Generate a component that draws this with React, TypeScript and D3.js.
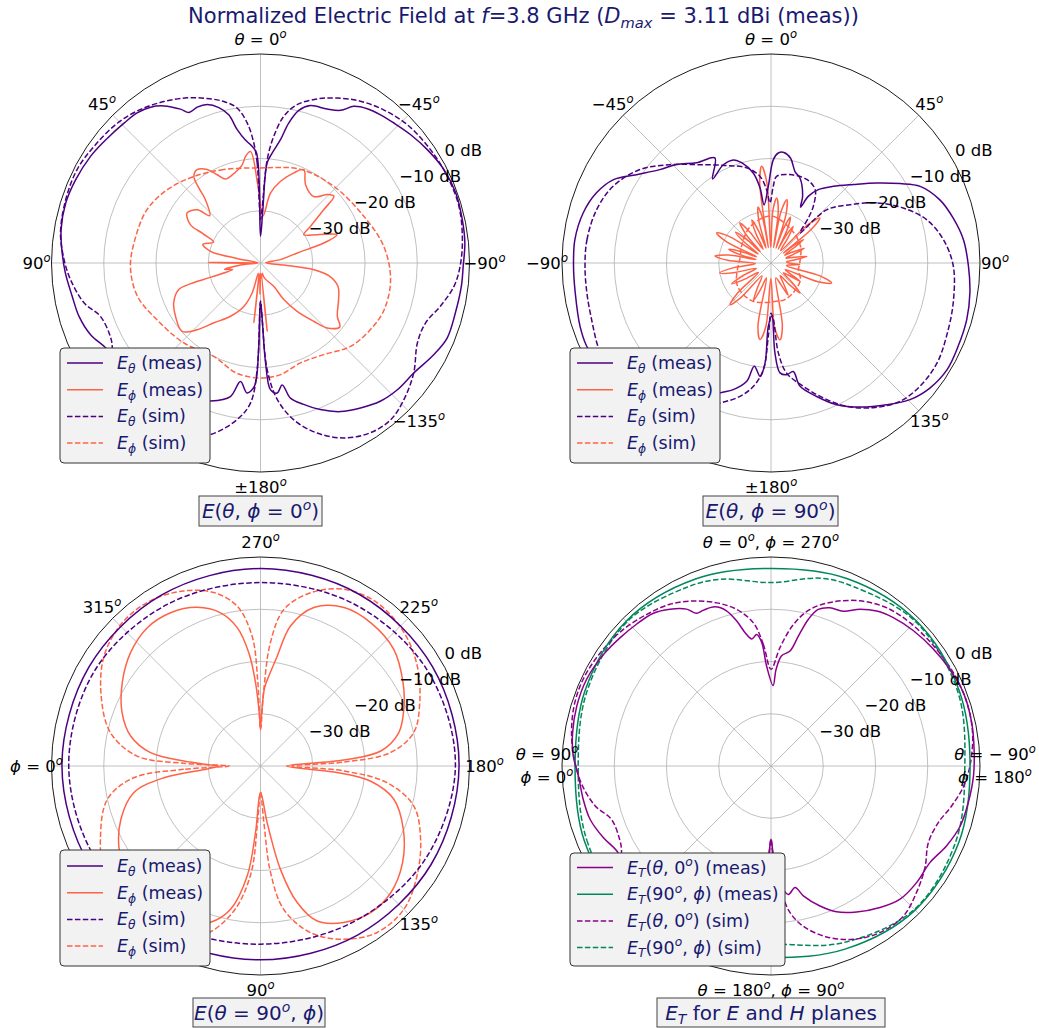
import React from 'react';
import * as d3 from 'd3';

type Pt = [number, number];
type Seg = { t: string; i?: boolean; s?: 'sup' | 'sub' };

// ---------------- DATA (angle in degrees, value in dB) ----------------
const dbTicks = [-30, -20, -10, 0];
const dbTickLabels = ['\u221230 dB', '\u221220 dB', '\u221210 dB', '0 dB'];
const dbDomain = [-40, 0];

// Panel 1: E(theta, phi=0)
const p1EthMeas: Pt[] = [[0,-34.9],[2.1,-18.9],[4.8,-17.3],[7,-16.3],[9.9,-14.1],[12.1,-11],[15,-9.2],[18.6,-8],[22.1,-7.8],[25.4,-8.1],[27.5,-6.8],[31.6,-4.7],[35.2,-3.5],[39.4,-2.8],[44.3,-2.6],[50.8,-2.2],[57.9,-1.6],[65.8,-1.2],[72.9,-1.0],[80.5,-1.3],[87.1,-2.0],[92.9,-2.6],[100,-3.4],[106.4,-3.8],[112.9,-4.7],[118.7,-6.2],[128,-7.0],[140,-8.5],[150,-10],[160.1,-11.9],[167.3,-13.8],[170.4,-17],[174.1,-15],[177.2,-16.4],[178.7,-22.8],[180,-32.7],[-177.1,-20.9],[-175.5,-15.7],[-172.7,-14.9],[-169.9,-16.3],[-167.5,-13.5],[-163,-11.7],[-157.8,-9.7],[-151.7,-7.7],[-145.4,-6.3],[-139.1,-5.0],[-132.8,-4.3],[-125.7,-3.9],[-117.9,-2.5],[-111.9,-1.5],[-104.4,-1.5],[-96.6,-1.3],[-90.9,-1.2],[-84.4,-0.7],[-77.9,-0.5],[-70.3,-0.3],[-63,-0.6],[-55.8,-1.4],[-49.5,-2.2],[-43.6,-3.0],[-39,-3.5],[-34.7,-4.1],[-30.8,-5.1],[-27.7,-7.0],[-23.4,-7.9],[-17.6,-8.4],[-14.1,-9.9],[-11.4,-12.7],[-9.2,-16.1],[-6.1,-18.8],[-3.8,-20.8],[-2.5,-29.8]];
const p1EthSim: Pt[] = [[0,-31.7],[1.9,-20.9],[3.2,-17],[5.4,-13.1],[8.6,-10],[12.8,-8.3],[18,-6.9],[24,-5.4],[30.9,-4.0],[38,-2.7],[45.7,-1.7],[55,-1.1],[63,-0.6],[72,-0.8],[81.5,-1.3],[89,-2.4],[95,-3.5],[102.8,-5.4],[108.4,-7.7],[116.1,-8.0],[119.8,-7.3],[126,-4.0],[133,-2.1],[140,-1.0],[147,-1.3],[155,-3],[163.8,-5.8],[171.5,-9.7],[175.9,-13.1],[178.2,-19.6],[180,-32.7],[-178.3,-29.2],[-176.4,-19.5],[-173,-13.7],[-168,-9.3],[-161.6,-5.7],[-154.5,-2.9],[-147.1,-1.3],[-140.3,-1.0],[-133.6,-2.1],[-125.7,-3.9],[-117,-6.3],[-110,-6.4],[-103.5,-4.6],[-96.9,-2.7],[-91,-1.8],[-83.4,-1.1],[-74.1,-0.5],[-65.1,-0.6],[-56.3,-0.9],[-46.7,-1.4],[-38.8,-2.4],[-31.7,-3.6],[-24.9,-5.2],[-19,-6.8],[-13,-8.9],[-9,-11.6],[-6,-15.6],[-3.7,-20.2],[-1.5,-30]];
const p1EphMeas: Pt[] = [[-3,-31],[2,-25],[5.1,-18.6],[8,-19.4],[10.6,-20.9],[17.8,-22.3],[22.6,-22.6],[26.1,-21.2],[29.7,-19.4],[34.2,-18.4],[37.6,-19.1],[39.4,-21.4],[41,-23.9],[47,-26.7],[49.9,-24.2],[55.7,-23],[61.3,-24.7],[63,-27.7],[66,-30.2],[72,-28.4],[76.9,-30.2],[79,-35.4],[87.5,-39.5],[89.5,-30.1],[91.5,-39.5],[96,-36],[100,-33],[103,-34.5],[106,-30],[106.5,-26.1],[108.1,-23.5],[114.8,-21.7],[122.1,-20.8],[131.1,-20.1],[136.5,-22.4],[142.1,-25.5],[150.6,-28.3],[159,-31.1],[164.5,-34.1],[168,-38],[173.7,-28.5],[176,-38],[179,-34],[-178,-38],[-174.4,-26.9],[-171,-38],[-165,-37],[-150.3,-34.8],[-147.5,-31.7],[-142.8,-28.4],[-137.6,-24.9],[-134.3,-22.2],[-128.9,-20.5],[-124.8,-22.1],[-115.1,-23.5],[-106.8,-24.5],[-100.5,-26.7],[-97.1,-29.7],[-95,-35.5],[-88,-39],[-80,-36],[-74.7,-32.7],[-72.5,-27.3],[-69.7,-24.4],[-63.4,-27.9],[-56.8,-30.1],[-53.7,-28.1],[-49.9,-24.2],[-47.7,-21],[-44.3,-21.7],[-38.7,-23.7],[-29.9,-22.7],[-24.9,-20.3],[-20.3,-21.6],[-13.8,-23.9],[-8.1,-26.5]];
const p1EphSim: Pt[] = [[0,-21.8],[21.4,-20.8],[37.6,-19.1],[51.8,-17.3],[64.8,-16],[78,-15.6],[91.5,-15.1],[105.1,-15.6],[118.7,-17.4],[136.2,-18.8],[153.4,-20],[168.1,-18.4],[180,-18],[-169.8,-18.3],[-158.2,-19.4],[-145.4,-18.7],[-132.8,-16.5],[-121.2,-15.4],[-110.7,-14.7],[-97.3,-14.9],[-82.3,-16.2],[-65.7,-18.3],[-43.7,-19.7],[-23.2,-20.5]];

// Panel 2: E(theta, phi=90)
const p2EthMeas: Pt[] = [[-91,-2.2],[-83.2,-2.2],[-75.1,-2.8],[-68.1,-4.0],[-62.1,-5.9],[-56.7,-9.2],[-50,-12.2],[-43.8,-13.9],[-36.6,-16.1],[-28.1,-17.2],[-34.8,-20.4],[-25.9,-19.1],[-20,-19],[-16.3,-20],[-11.1,-22.5],[-8.3,-25.5],[-6.8,-28.8],[-2,-25.3],[1.3,-20.2],[3.8,-18.9],[6.7,-18.7],[10.6,-19.6],[14.7,-21.9],[18.8,-22.8],[25.4,-25.9],[27.9,-27.9],[29.2,-25.4],[32.8,-23.3],[39.1,-21.1],[46.4,-18.2],[52.9,-14.6],[58.4,-11],[62.8,-7.9],[69.5,-5.5],[76.1,-4.1],[83.1,-2.9],[91,-2.2],[98.6,-1.5],[106.2,-1.0],[114,-0.8],[121.3,-0.6],[128.2,-1.3],[134.5,-2.7],[140.8,-5],[148.3,-7.6],[155.1,-10.1],[161.1,-13],[166.8,-15.8],[168.4,-18.8],[172,-18.4],[175.3,-18.9],[177.5,-22.8],[179,-29.8],[-177.6,-27.9],[-176.6,-20.8],[-174.5,-18.2],[-170.8,-20],[-168.4,-16.9],[-163.4,-14.7],[-158.6,-13.3],[-150,-9],[-140,-5.5],[-130,-3],[-120,-1.8],[-114.3,-1.3],[-108.3,-1.5],[-98.7,-2.1]];
const p2EthSim: Pt[] = [[-91,-4.4],[-82.8,-4.5],[-73,-5.1],[-64.1,-6.4],[-54.5,-9.2],[-45.8,-13],[-35.8,-16.8],[-24.5,-19.5],[-14.4,-21.2],[-7.2,-23.3],[-3.4,-26],[-1,-28.5],[1.7,-25.3],[3.7,-23.4],[12.1,-22.7],[23.2,-22.6],[31,-23.6],[36.8,-26.5],[39.7,-28.8],[44,-32],[46.2,-25.3],[53.6,-21.2],[60.4,-16.7],[67.4,-12.6],[74.4,-9.1],[82.3,-6.7],[91,-5.1],[102.4,-4.3],[112.7,-3.6],[121.1,-2.9],[129.6,-3.0],[137,-3.8],[144.8,-6.1],[152.2,-9],[158.8,-12.3],[165.3,-15.6],[171.9,-18.7],[175.3,-22.7],[177.6,-29.2],[180,-30.4],[-177.9,-26],[-175.9,-19.5],[-171.8,-16.1],[-166.9,-13.8],[-160,-11.5],[-150,-8],[-140,-5],[-130,-3.5],[-120,-3.2],[-116.2,-3.2],[-107.5,-4.0],[-99.2,-4.3]];
const p2EphMeas: Pt[] = [[-175.3,-27.7],[-171.8,-25.2],[-168.3,-27.7],[-163,-37],[-158.5,-34.5],[-155,-32],[-151.5,-34.5],[-145,-37],[-139,-31.3],[-135.5,-28.8],[-132,-31.3],[-127,-37],[-121.5,-34],[-118,-31.5],[-114.5,-34],[-110,-37],[-104.5,-32.5],[-101,-30],[-97.5,-32.5],[-92,-37],[-86.5,-31.7],[-83,-29.2],[-79.5,-31.7],[-77,-37],[-75,-34],[-72,-31.5],[-69,-34],[-66.5,-37],[-64.5,-30.6],[-61,-28.1],[-57.5,-30.6],[-55,-37],[-52,-33.5],[-49,-31],[-46,-33.5],[-43.5,-37],[-41.3,-32.8],[-37.8,-30.3],[-34.3,-32.8],[-30,-37],[-27,-33.5],[-24,-31],[-21,-33.5],[-18.5,-37],[-16,-31.5],[-13,-29],[-10.5,-31.5],[-9.5,-37],[-8,-24.5],[-5.5,-21.4],[-3,-24.5],[-1,-37],[2,-30],[5,-27.5],[8,-30],[9.5,-37],[11,-30],[14,-27.5],[17,-30],[18.5,-37],[20,-33],[23,-30.5],[26,-33],[27.5,-37],[28.5,-34.3],[31.3,-31.8],[34,-34.3],[38,-37],[44,-29.8],[47.4,-27.3],[50,-29.8],[51,-37],[52,-34.8],[54.2,-32.3],[56.5,-34.8],[60,-37],[63,-35.5],[66,-33],[69,-35.5],[72,-37],[76,-35.5],[79.4,-33],[82.8,-35.5],[86,-37],[90,-36.5],[93,-34.5],[96,-36.5],[100,-37],[104.7,-30.3],[108.2,-27.8],[111.7,-30.3],[115,-37],[119,-36],[122,-33.5],[125,-36],[129,-37],[132.5,-34.5],[136,-32],[139.5,-34.5],[144,-37],[148.5,-35.5],[152,-33],[155.5,-35.5],[162,-37],[169.8,-27.7],[173.3,-25.2],[176.8,-27.7],[-179.5,-37]];
const p2EphSim: Pt[] = [[0,-31],[30,-32.5],[60,-33.5],[90,-34.5],[104,-34.6],[120,-33.5],[143,-32.9],[160,-32.5],[171.6,-32.6],[-170,-32.3],[-155,-31.9],[-135,-32],[-120,-32.4],[-100,-33.5],[-80,-34],[-60,-33.5],[-30,-32]];

// Panel 3: E(theta=90, phi)
const p3EthMeas: Pt[] = [[0,-2.0],[30,-2.2],[60,-2.6],[90,-2.9],[120,-2.7],[150,-2.3],[180,-2.0],[210,-2.0],[240,-2.1],[270,-2.2],[300,-2.2],[330,-2.1]];
const p3EthSim: Pt[] = [[0,-3.3],[30,-3.8],[60,-5.0],[90,-5.9],[120,-5.3],[150,-3.8],[180,-2.7],[210,-3.2],[240,-4.2],[270,-4.9],[300,-4.3],[330,-3.4]];
const p3EphMeas: Pt[] = [[0,-32],[3,-30],[6.9,-21.4],[11.9,-15.2],[20.9,-11.4],[30.5,-8.6],[40,-6.8],[50,-5.6],[60,-5.8],[67,-7.2],[72.3,-8.6],[78.2,-12],[83.1,-18.8],[85.7,-27.2],[90,-35],[96.7,-29.1],[100.9,-19.9],[105,-13],[110.1,-8.4],[118,-6.1],[126.9,-4.9],[135.7,-5.2],[145.7,-7.1],[156.1,-10.1],[166,-13.7],[172.2,-18.8],[175.3,-25.9],[180,-35],[184.1,-24],[187.1,-16.8],[193.5,-12.8],[201.6,-10.5],[210.3,-8.4],[221.2,-6.1],[232.5,-5.4],[242.2,-5.7],[251.4,-8.0],[257.9,-12.6],[261.5,-19],[264.5,-22.5],[267,-25],[269,-30.4],[270,-33],[271.1,-30.4],[273.4,-24],[275.9,-18.2],[279.6,-13.1],[284.6,-9.7],[291.8,-7.3],[300.4,-6.0],[309.3,-5.8],[318.9,-7.0],[328.9,-9.1],[338.9,-11.6],[347,-14.5],[353.1,-18.8],[356.3,-25.3],[358.5,-30]];
const p3EphSim: Pt[] = [[0,-34],[2.5,-25.3],[5.3,-15.6],[12.3,-10],[24.6,-6.3],[35,-3.5],[45,-1.6],[55,-1.5],[65,-3.0],[73,-6.7],[80,-12.2],[85,-19.5],[87,-29],[90,-35],[93.4,-29.2],[95.4,-19.5],[99.2,-12.2],[106.7,-6.7],[115.7,-3.2],[125,-1.1],[135,-1.2],[144.9,-3.4],[155.4,-6.3],[165.4,-9.7],[172.5,-15.6],[176.6,-24],[180,-34],[182.7,-24],[185.9,-15],[192.3,-10],[201.7,-7.2],[212.6,-4.4],[222.9,-2.5],[234.5,-1.6],[244.7,-2.6],[253.9,-5.5],[261.5,-9.7],[265.4,-16.3],[267.5,-25.3],[270,-33],[271.8,-24],[273.7,-15.1],[278.3,-9.1],[285.1,-5.6],[293.7,-3.4],[303.7,-2.0],[314,-1.9],[324.9,-3.4],[336.3,-6.7],[347.5,-10.6],[355.4,-16.3],[358,-25.3]];

// Panel 4: E_T for E and H planes
const p4EtEMeas: Pt[] = [[-1.5,-24.6],[2.5,-20.9],[4.3,-16.3],[6.2,-14.7],[8.6,-15.4],[11,-14],[13.3,-11.5],[16,-9.1],[19.4,-7.7],[23.4,-7.5],[26,-7.5],[28.3,-5.9],[32.8,-4.3],[37.6,-3.1],[43.5,-2.6],[49.6,-2.1],[56.3,-1.5],[64.8,-1.0],[72.8,-1.1],[80.5,-1.5],[87.1,-2.1],[93,-3.1],[100.1,-3.5],[106.4,-3.9],[113.1,-5.1],[118.8,-6.3],[130,-5.8],[145,-7.5],[160,-12],[170,-15],[176,-18],[178.7,-23.5],[180,-26],[-178.7,-23.5],[-176,-18],[-172.3,-15.2],[-168.8,-16.3],[-166,-14.4],[-160.7,-11.6],[-155.8,-9.4],[-149.6,-7.6],[-142.4,-5.8],[-135.9,-4.5],[-128.7,-4.3],[-121.3,-4.4],[-114.5,-3.1],[-107.6,-2.0],[-100.5,-1.6],[-92.8,-1.2],[-85.3,-1.0],[-77.8,-0.7],[-69.1,-0.6],[-61.6,-1.1],[-54.3,-1.7],[-46.5,-2.4],[-39.5,-3.2],[-34.3,-4.1],[-29.6,-5.5],[-25,-7.3],[-20.4,-7.7],[-16.8,-8.7],[-14.3,-11],[-11.9,-14.6],[-9.4,-17.7],[-5.5,-18.8],[-3,-21.5]];
const p4EtESim: Pt[] = [[0,-21.5],[3.6,-16.7],[7,-12.4],[12.4,-9.3],[18.4,-7.1],[25.2,-5.1],[32,-3.5],[39.3,-2.5],[47.2,-1.5],[56.5,-0.8],[65.2,-0.4],[73.1,-0.6],[81.4,-1.4],[89,-2.5],[95.5,-3.6],[102.8,-5.5],[108.5,-7.8],[115.9,-7.8],[119.6,-7.1],[125,-4.5],[132,-3.0],[140,-1.7],[147,-1.9],[155,-3.3],[162,-5.6],[168,-8.7],[173,-11.7],[176,-16],[178.5,-22],[180,-26],[-178.5,-22],[-175.2,-15.7],[-172.6,-11.7],[-168.6,-8.7],[-162,-5.6],[-154.6,-3.3],[-146.8,-1.9],[-138.6,-1.7],[-131,-3.1],[-123.4,-4.7],[-116,-6.5],[-108.7,-6.2],[-102.5,-4.6],[-95.9,-2.9],[-89,-1.8],[-80.6,-0.9],[-72.1,-0.6],[-62.9,-0.8],[-53.5,-1.3],[-44.1,-1.8],[-36.1,-2.5],[-28.3,-4.1],[-20.8,-6.4],[-14,-9.1],[-9,-12.6],[-4.3,-17.3]];
const p4EtHMeas: Pt[] = [[0,-2.5],[22,-1.5],[45,-0.9],[68,-2.0],[90,-3.3],[112,-2.2],[135,-1.0],[158,-1.2],[180,-1.9],[202,-1.2],[225,-0.7],[248,-1.3],[270,-2.2],[292,-1.4],[315,-0.8],[338,-1.6]];
const p4EtHSim: Pt[] = [[0,-3.1],[22,-2.0],[45,-1.0],[68,-3.0],[90,-5.9],[112,-3.5],[135,-1.2],[158,-1.8],[180,-2.9],[202,-1.5],[225,-0.9],[245,-2.2],[255,-2.8],[270,-4.9],[285,-3.0],[295,-2.2],[315,-1.0],[338,-2.0]];

// ---------------- STYLE / LAYOUT ----------------
const FONT = "'DejaVu Sans', sans-serif";
const NAVY = '#191970';
const C_TH = '#4b0082';
const C_PH = '#ff6347';
const C_MAG = '#8b008b';
const C_GRN = '#00875a';
const R_OUT = 209;
const DASH = '5.5,2.4';
const PHI = '\u03d5';
const THETA = '\u03b8';

const rScale = d3.scaleLinear().domain(dbDomain).range([0, R_OUT]).clamp(true);
const rad = (d: number) => (d * Math.PI) / 180;

type Orient = (a: number) => number;
const oCCW: Orient = (a) => -a;
const oCW: Orient = (a) => a;
const oPHI: Orient = (a) => 270 - a;

function pathOf(data: Pt[], o: Orient): string {
  const gen = d3
    .lineRadial<Pt>()
    .angle((d) => rad(o(d[0])))
    .radius((d) => rScale(d[1]))
    .curve(d3.curveCatmullRomClosed.alpha(0.5));
  return gen(data) ?? '';
}

function Txt(props: { x: number; y: number; segs: Seg[]; fs: number; anchor?: string; fill?: string }) {
  const { x, y, segs, fs, anchor = 'middle', fill = '#000' } = props;
  let cur = 0;
  const spans = segs.map((sg, k) => {
    const target = sg.s === 'sup' ? -0.42 * fs : sg.s === 'sub' ? 0.22 * fs : 0;
    const dy = target - cur;
    cur = target;
    return (
      <tspan key={k} dy={dy} fontStyle={sg.i ? 'italic' : 'normal'} fontSize={sg.s ? fs * 0.7 : fs}>
        {sg.t}
      </tspan>
    );
  });
  return (
    <text x={x} y={y} fontSize={fs} textAnchor={anchor as any} fill={fill} fontFamily={FONT} style={{ whiteSpace: 'pre' }}>
      {spans}
    </text>
  );
}

const deg = (n: string): Seg[] => [{ t: n }, { t: 'o', i: true, s: 'sup' }];
const thEq = (n: string): Seg[] => [{ t: THETA, i: true }, { t: ' = ' + n }, { t: 'o', i: true, s: 'sup' }];
const phEq = (n: string): Seg[] => [{ t: PHI, i: true }, { t: ' = ' + n }, { t: 'o', i: true, s: 'sup' }];

interface Curve { data: Pt[]; o: Orient; color: string; dashed?: boolean }
interface AngLabel { a: number; lines: Seg[][] }
interface LegRow { segs: Seg[]; color: string; dashed?: boolean }

function Panel(props: {
  cx: number; cy: number; curves: Curve[]; labels: AngLabel[];
  legend: { x: number; y: number; w: number; h: number; rows: LegRow[]; y0: number; lx: number; tx: number };
  caption: { x: number; y: number; w: number; h: number; segs: Seg[] };
}) {
  const { cx, cy, curves, labels, legend, caption } = props;
  const spokes = d3.range(0, 360, 45);
  const fsT = 16.5;
  return (
    <g>
      <g transform={`translate(${cx},${cy})`}>
        {dbTicks.slice(0, 3).map((t) => (
          <circle key={t} r={rScale(t)} fill="none" stroke="#b0b0b0" strokeWidth={0.8} />
        ))}
        {spokes.map((a) => (
          <line key={a} x1={0} y1={0} x2={R_OUT * Math.sin(rad(a))} y2={-R_OUT * Math.cos(rad(a))} stroke="#b0b0b0" strokeWidth={0.8} />
        ))}
        <circle r={R_OUT} fill="none" stroke="#000" strokeWidth={0.9} />
        {curves.map((c, k) => (
          <path key={k} d={pathOf(c.data, c.o)} fill="none" stroke={c.color} strokeWidth={1.5} strokeDasharray={c.dashed ? DASH : undefined} strokeLinejoin="round" />
        ))}
      </g>
      {dbTicks.map((t, k) => {
        const rr = rScale(t);
        return (
          <Txt key={t} x={cx + rr * Math.cos(rad(30)) + 3} y={cy - rr * 0.5 - 3} segs={[{ t: dbTickLabels[k] }]} fs={fsT} anchor="start" />
        );
      })}
      {labels.map((l, k) => {
        const lx = cx + (R_OUT + 15) * Math.sin(rad(l.a));
        const ly = cy - (R_OUT + 15) * Math.cos(rad(l.a));
        const n = l.lines.length;
        return (
          <g key={k}>
            {l.lines.map((segs, j) => (
              <Txt key={j} x={lx} y={ly + 5.5 + (j - (n - 1) / 2) * 23} segs={segs} fs={fsT} />
            ))}
          </g>
        );
      })}
      <rect x={legend.x} y={legend.y} width={legend.w} height={legend.h} rx={4} fill="#f2f2f2" stroke="#333" strokeWidth={1} />
      {legend.rows.map((row, k) => {
        const yy = legend.y0 + k * 26.7;
        return (
          <g key={k}>
            <line x1={legend.lx} x2={legend.lx + 36} y1={yy} y2={yy} stroke={row.color} strokeWidth={1.5} strokeDasharray={row.dashed ? DASH : undefined} />
            <Txt x={legend.tx} y={yy + 6} segs={row.segs} fs={17.5} anchor="start" fill={NAVY} />
          </g>
        );
      })}
      <rect x={caption.x} y={caption.y} width={caption.w} height={caption.h} fill="#f2f2f2" stroke="#444" strokeWidth={1} />
      <Txt x={caption.x + caption.w / 2} y={caption.y + 22} segs={caption.segs} fs={20} fill={NAVY} />
    </g>
  );
}

const Eth: Seg[] = [{ t: 'E', i: true }, { t: THETA, i: true, s: 'sub' }];
const Eph: Seg[] = [{ t: 'E', i: true }, { t: PHI, i: true, s: 'sub' }];
const ET: Seg[] = [{ t: 'E', i: true }, { t: 'T', i: true, s: 'sub' }];
const legRows123: LegRow[] = [
  { segs: [...Eth, { t: ' (meas)' }], color: C_TH },
  { segs: [...Eph, { t: ' (meas)' }], color: C_PH },
  { segs: [...Eth, { t: ' (sim)' }], color: C_TH, dashed: true },
  { segs: [...Eph, { t: ' (sim)' }], color: C_PH, dashed: true },
];
const etE: Seg[] = [...ET, { t: '(' }, { t: THETA, i: true }, { t: ', 0' }, { t: 'o', i: true, s: 'sup' }, { t: ')' }];
const etH: Seg[] = [...ET, { t: '(90' }, { t: 'o', i: true, s: 'sup' }, { t: ', ' }, { t: PHI, i: true }, { t: ')' }];
const legRows4: LegRow[] = [
  { segs: [...etE, { t: ' (meas)' }], color: C_MAG },
  { segs: [...etH, { t: ' (meas)' }], color: C_GRN },
  { segs: [...etE, { t: ' (sim)' }], color: C_MAG, dashed: true },
  { segs: [...etH, { t: ' (sim)' }], color: C_GRN, dashed: true },
];

export default function App() {
  const neg = (n: string) => '\u2212' + n;
  return (
    <div style={{ position: 'absolute', left: 0, top: 0, background: '#fff' }}>
      <svg width={1039} height={1028} viewBox="0 0 1039 1028" style={{ display: 'block', background: '#fff' }}>
        <Txt
          x={523.5}
          y={23}
          fs={21}
          fill={NAVY}
          segs={[
            { t: 'Normalized Electric Field at ' },
            { t: 'f', i: true },
            { t: '=3.8 GHz (' },
            { t: 'D', i: true },
            { t: 'max', i: true, s: 'sub' },
            { t: ' = 3.11 dBi (meas))' },
          ]}
        />
        <Panel
          cx={260.5}
          cy={263}
          curves={[
            { data: p1EphSim, o: oCCW, color: C_PH, dashed: true },
            { data: p1EphMeas, o: oCCW, color: C_PH },
            { data: p1EthSim, o: oCCW, color: C_TH, dashed: true },
            { data: p1EthMeas, o: oCCW, color: C_TH },
          ]}
          labels={[
            { a: 0, lines: [thEq('0')] },
            { a: 315, lines: [deg('45')] },
            { a: 270, lines: [deg('90')] },
            { a: 45, lines: [deg(neg('45'))] },
            { a: 90, lines: [deg(neg('90'))] },
            { a: 135, lines: [deg(neg('135'))] },
            { a: 180, lines: [deg('\u00b1180')] },
          ]}
          legend={{ x: 60, y: 348, w: 150, h: 115, rows: legRows123, y0: 363, lx: 67, tx: 117 }}
          caption={{ x: 199, y: 496, w: 123, h: 30, segs: [{ t: 'E', i: true }, { t: '(' }, { t: THETA, i: true }, { t: ', ' }, { t: PHI, i: true }, { t: ' = 0' }, { t: 'o', i: true, s: 'sup' }, { t: ')' }] }}
        />
        <Panel
          cx={771}
          cy={263}
          curves={[
            { data: p2EphSim, o: oCW, color: C_PH, dashed: true },
            { data: p2EphMeas, o: oCW, color: C_PH },
            { data: p2EthSim, o: oCW, color: C_TH, dashed: true },
            { data: p2EthMeas, o: oCW, color: C_TH },
          ]}
          labels={[
            { a: 0, lines: [thEq('0')] },
            { a: 315, lines: [deg(neg('45'))] },
            { a: 270, lines: [deg(neg('90'))] },
            { a: 45, lines: [deg('45')] },
            { a: 90, lines: [deg('90')] },
            { a: 135, lines: [deg('135')] },
            { a: 180, lines: [deg('\u00b1180')] },
          ]}
          legend={{ x: 570, y: 348, w: 150, h: 115, rows: legRows123, y0: 363, lx: 577, tx: 627 }}
          caption={{ x: 703, y: 496, w: 135, h: 30, segs: [{ t: 'E', i: true }, { t: '(' }, { t: THETA, i: true }, { t: ', ' }, { t: PHI, i: true }, { t: ' = 90' }, { t: 'o', i: true, s: 'sup' }, { t: ')' }] }}
        />
        <Panel
          cx={260.5}
          cy={766}
          curves={[
            { data: p3EphSim, o: oPHI, color: C_PH, dashed: true },
            { data: p3EphMeas, o: oPHI, color: C_PH },
            { data: p3EthSim, o: oPHI, color: C_TH, dashed: true },
            { data: p3EthMeas, o: oPHI, color: C_TH },
          ]}
          labels={[
            { a: 0, lines: [deg('270')] },
            { a: 315, lines: [deg('315')] },
            { a: 270, lines: [phEq('0')] },
            { a: 45, lines: [deg('225')] },
            { a: 90, lines: [deg('180')] },
            { a: 135, lines: [deg('135')] },
            { a: 180, lines: [deg('90')] },
          ]}
          legend={{ x: 60, y: 850, w: 150, h: 116, rows: legRows123, y0: 866, lx: 67, tx: 117 }}
          caption={{ x: 193, y: 998, w: 132, h: 29, segs: [{ t: 'E', i: true }, { t: '(' }, { t: THETA, i: true }, { t: ' = 90' }, { t: 'o', i: true, s: 'sup' }, { t: ', ' }, { t: PHI, i: true }, { t: ')' }] }}
        />
        <Panel
          cx={771}
          cy={766}
          curves={[
            { data: p4EtHSim, o: oPHI, color: C_GRN, dashed: true },
            { data: p4EtESim, o: oCCW, color: C_MAG, dashed: true },
            { data: p4EtHMeas, o: oPHI, color: C_GRN },
            { data: p4EtEMeas, o: oCCW, color: C_MAG },
          ]}
          labels={[
            { a: 0, lines: [[...thEq('0'), { t: ', ' }, ...phEq('270')]] },
            { a: 270, lines: [thEq('90'), phEq('0')] },
            { a: 90, lines: [thEq('\u2212 90'), phEq('180')] },
            { a: 180, lines: [[...thEq('180'), { t: ', ' }, ...phEq('90')]] },
          ]}
          legend={{ x: 570, y: 853, w: 215, h: 113, rows: legRows4, y0: 867.5, lx: 577, tx: 627 }}
          caption={{ x: 657, y: 998, w: 228, h: 29, segs: [...ET, { t: ' for ' }, { t: 'E', i: true }, { t: ' and ' }, { t: 'H', i: true }, { t: ' planes' }] }}
        />
      </svg>
    </div>
  );
}
